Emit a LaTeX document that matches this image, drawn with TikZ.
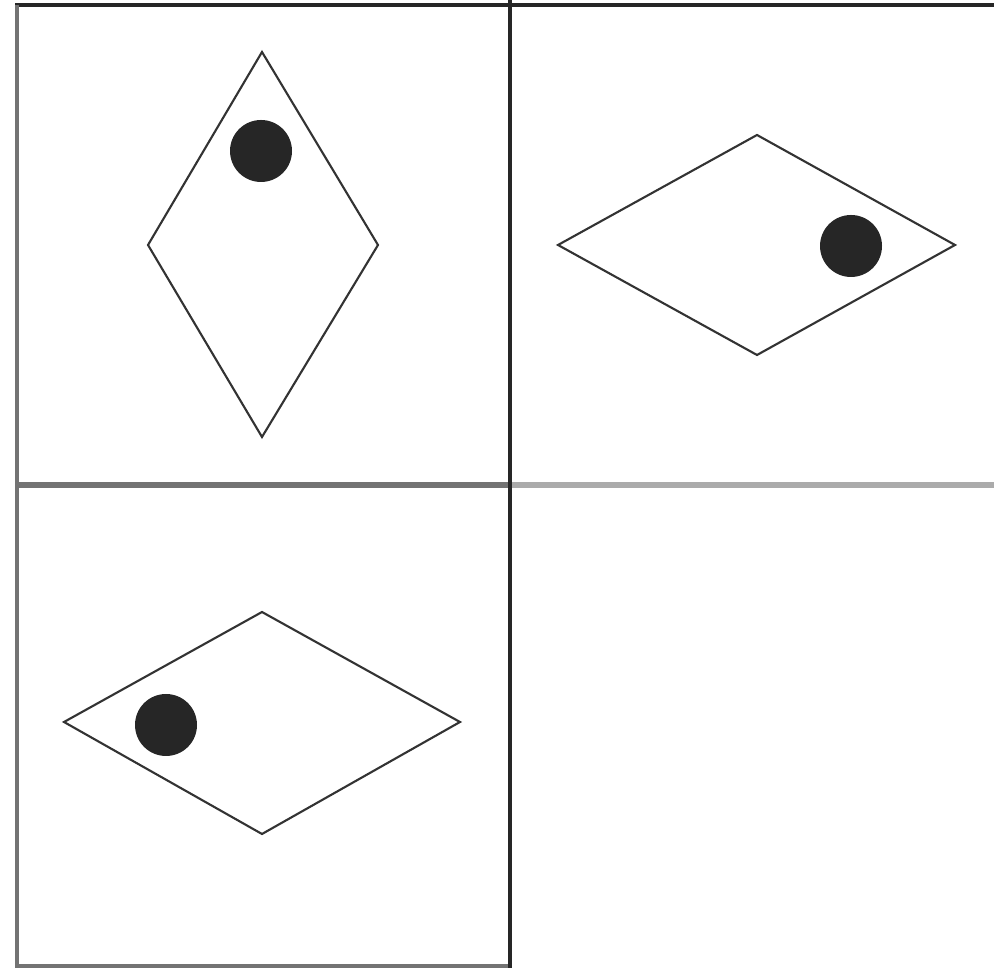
\documentclass[tikz,border=0pt]{standalone}
\begin{document}
\begin{tikzpicture}[x=0.01cm,y=-0.01cm,
  frame/.style={line width=1.1pt,draw=black!85},
  framegray/.style={line width=0.9pt,draw=black!55},
  rhomb/.style={line width=0.6pt,draw=black!80,line join=miter},
  dot/.style={fill=black!85}]
\useasboundingbox (0,0) rectangle (994,974);
% frame lines
\draw[frame] (15,5) -- (994,5);
\draw[framegray] (17,5) -- (17,967);
\draw[framegray] (15,966) -- (510,966);
\draw[line width=1.7pt,draw=black!55] (17,485) -- (510,485);
\draw[line width=1.7pt,draw=black!33] (510,485) -- (994,485);
\draw[frame] (510,0) -- (510,968);
% diamond 1
\draw[rhomb] (262,52) -- (378,245) -- (262,437) -- (148,245) -- cycle;
\fill[dot] (261,151) circle (31);
% diamond 2
\draw[rhomb] (558,245) -- (757,135) -- (955,245) -- (757,355) -- cycle;
\fill[dot] (851,246) circle (31);
% diamond 3
\draw[rhomb] (64,722) -- (262,612) -- (460,722) -- (262,834) -- cycle;
\fill[dot] (166,725) circle (31);
\end{tikzpicture}
\end{document}
